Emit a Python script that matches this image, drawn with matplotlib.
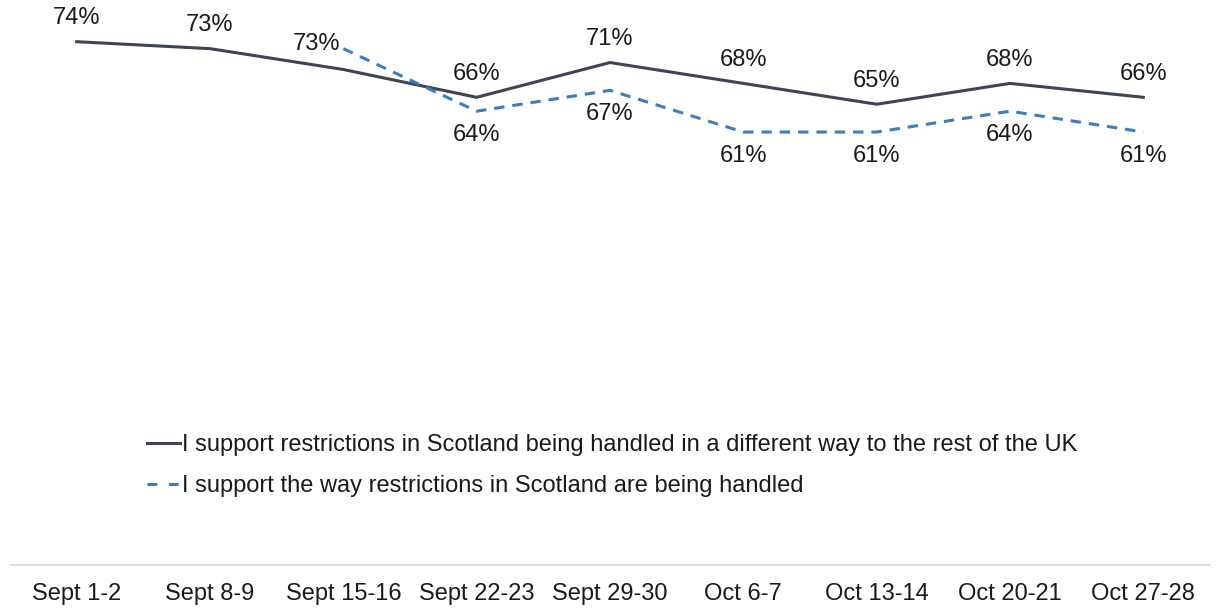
import matplotlib.pyplot as plt

plt.rcParams['font.family'] = ['Liberation Sans', 'DejaVu Sans']

# Survey waves
waves = ['Sept 1-2', 'Sept 8-9', 'Sept 15-16', 'Sept 22-23', 'Sept 29-30',
         'Oct 6-7', 'Oct 13-14', 'Oct 20-21', 'Oct 27-28']

# % agreeing with each statement (None = not asked that wave)
different_way = [74, 73, 70, 66, 71, 68, 65, 68, 66]
different_way_labelled = [True, True, False, True, True, True, True, True, True]
way_handled = [None, None, 73, 64, 67, 61, 61, 64, 61]

label_different = 'I support restrictions in Scotland being handled in a different way to the rest of the UK'
label_handled = 'I support the way restrictions in Scotland are being handled'

solid_col = '#3d4453'
dash_col = '#3a7dc0'
text_col = '#1a1a1a'
fs = 17

fig = plt.figure(figsize=(12.18, 6.08), dpi=100)
ax = fig.add_axes([10 / 1218, 43 / 608, 1200 / 1218, 565 / 608])

x = list(range(len(waves)))
ax.plot(x, different_way, color=solid_col, lw=2.2, label=label_different)

xd = [i for i, v in zip(x, way_handled) if v is not None]
yd = [v for v in way_handled if v is not None]
ax.plot(xd, yd, color=dash_col, lw=2.2, ls=(0, (3.4, 2.6)), label=label_handled)

# value labels: solid above, dashed below (first dashed point to the left)
for i, (v, show) in enumerate(zip(different_way, different_way_labelled)):
    if show:
        ax.annotate(f'{v}%', (i, v), xytext=(0, 9), textcoords='offset points',
                    ha='center', va='bottom', fontsize=fs, color=text_col)
for k, (i, v) in enumerate(zip(xd, yd)):
    if k == 0:
        ax.annotate(f'{v}%', (i, v), xytext=(-2, 3), textcoords='offset points',
                    ha='right', va='center', fontsize=fs, color=text_col)
    else:
        ax.annotate(f'{v}%', (i, v), xytext=(0, -9), textcoords='offset points',
                    ha='center', va='top', fontsize=fs, color=text_col)

ax.set_xlim(-0.5, len(waves) - 0.5)
ax.set_ylim(-1.3, 80)
ax.set_xticks(x)
ax.set_xticklabels(waves, fontsize=fs, color=text_col)
ax.tick_params(axis='x', length=0, pad=13)
ax.set_yticks([])
for side in ['top', 'left', 'right']:
    ax.spines[side].set_visible(False)
ax.spines['bottom'].set_color('#d9d9d9')
ax.spines['bottom'].set_linewidth(1.2)

leg = ax.legend(loc='upper left', bbox_to_anchor=(0.114, 0.232), frameon=False,
                fontsize=fs, handlelength=1.4, handletextpad=0.1, labelspacing=0.82,
                borderpad=0, borderaxespad=0, labelcolor=text_col)
# two short dashes in the legend sample
leg.get_lines()[1].set_linestyle((0, (3.2, 3.8)))

fig.savefig('out.png', dpi=100)
